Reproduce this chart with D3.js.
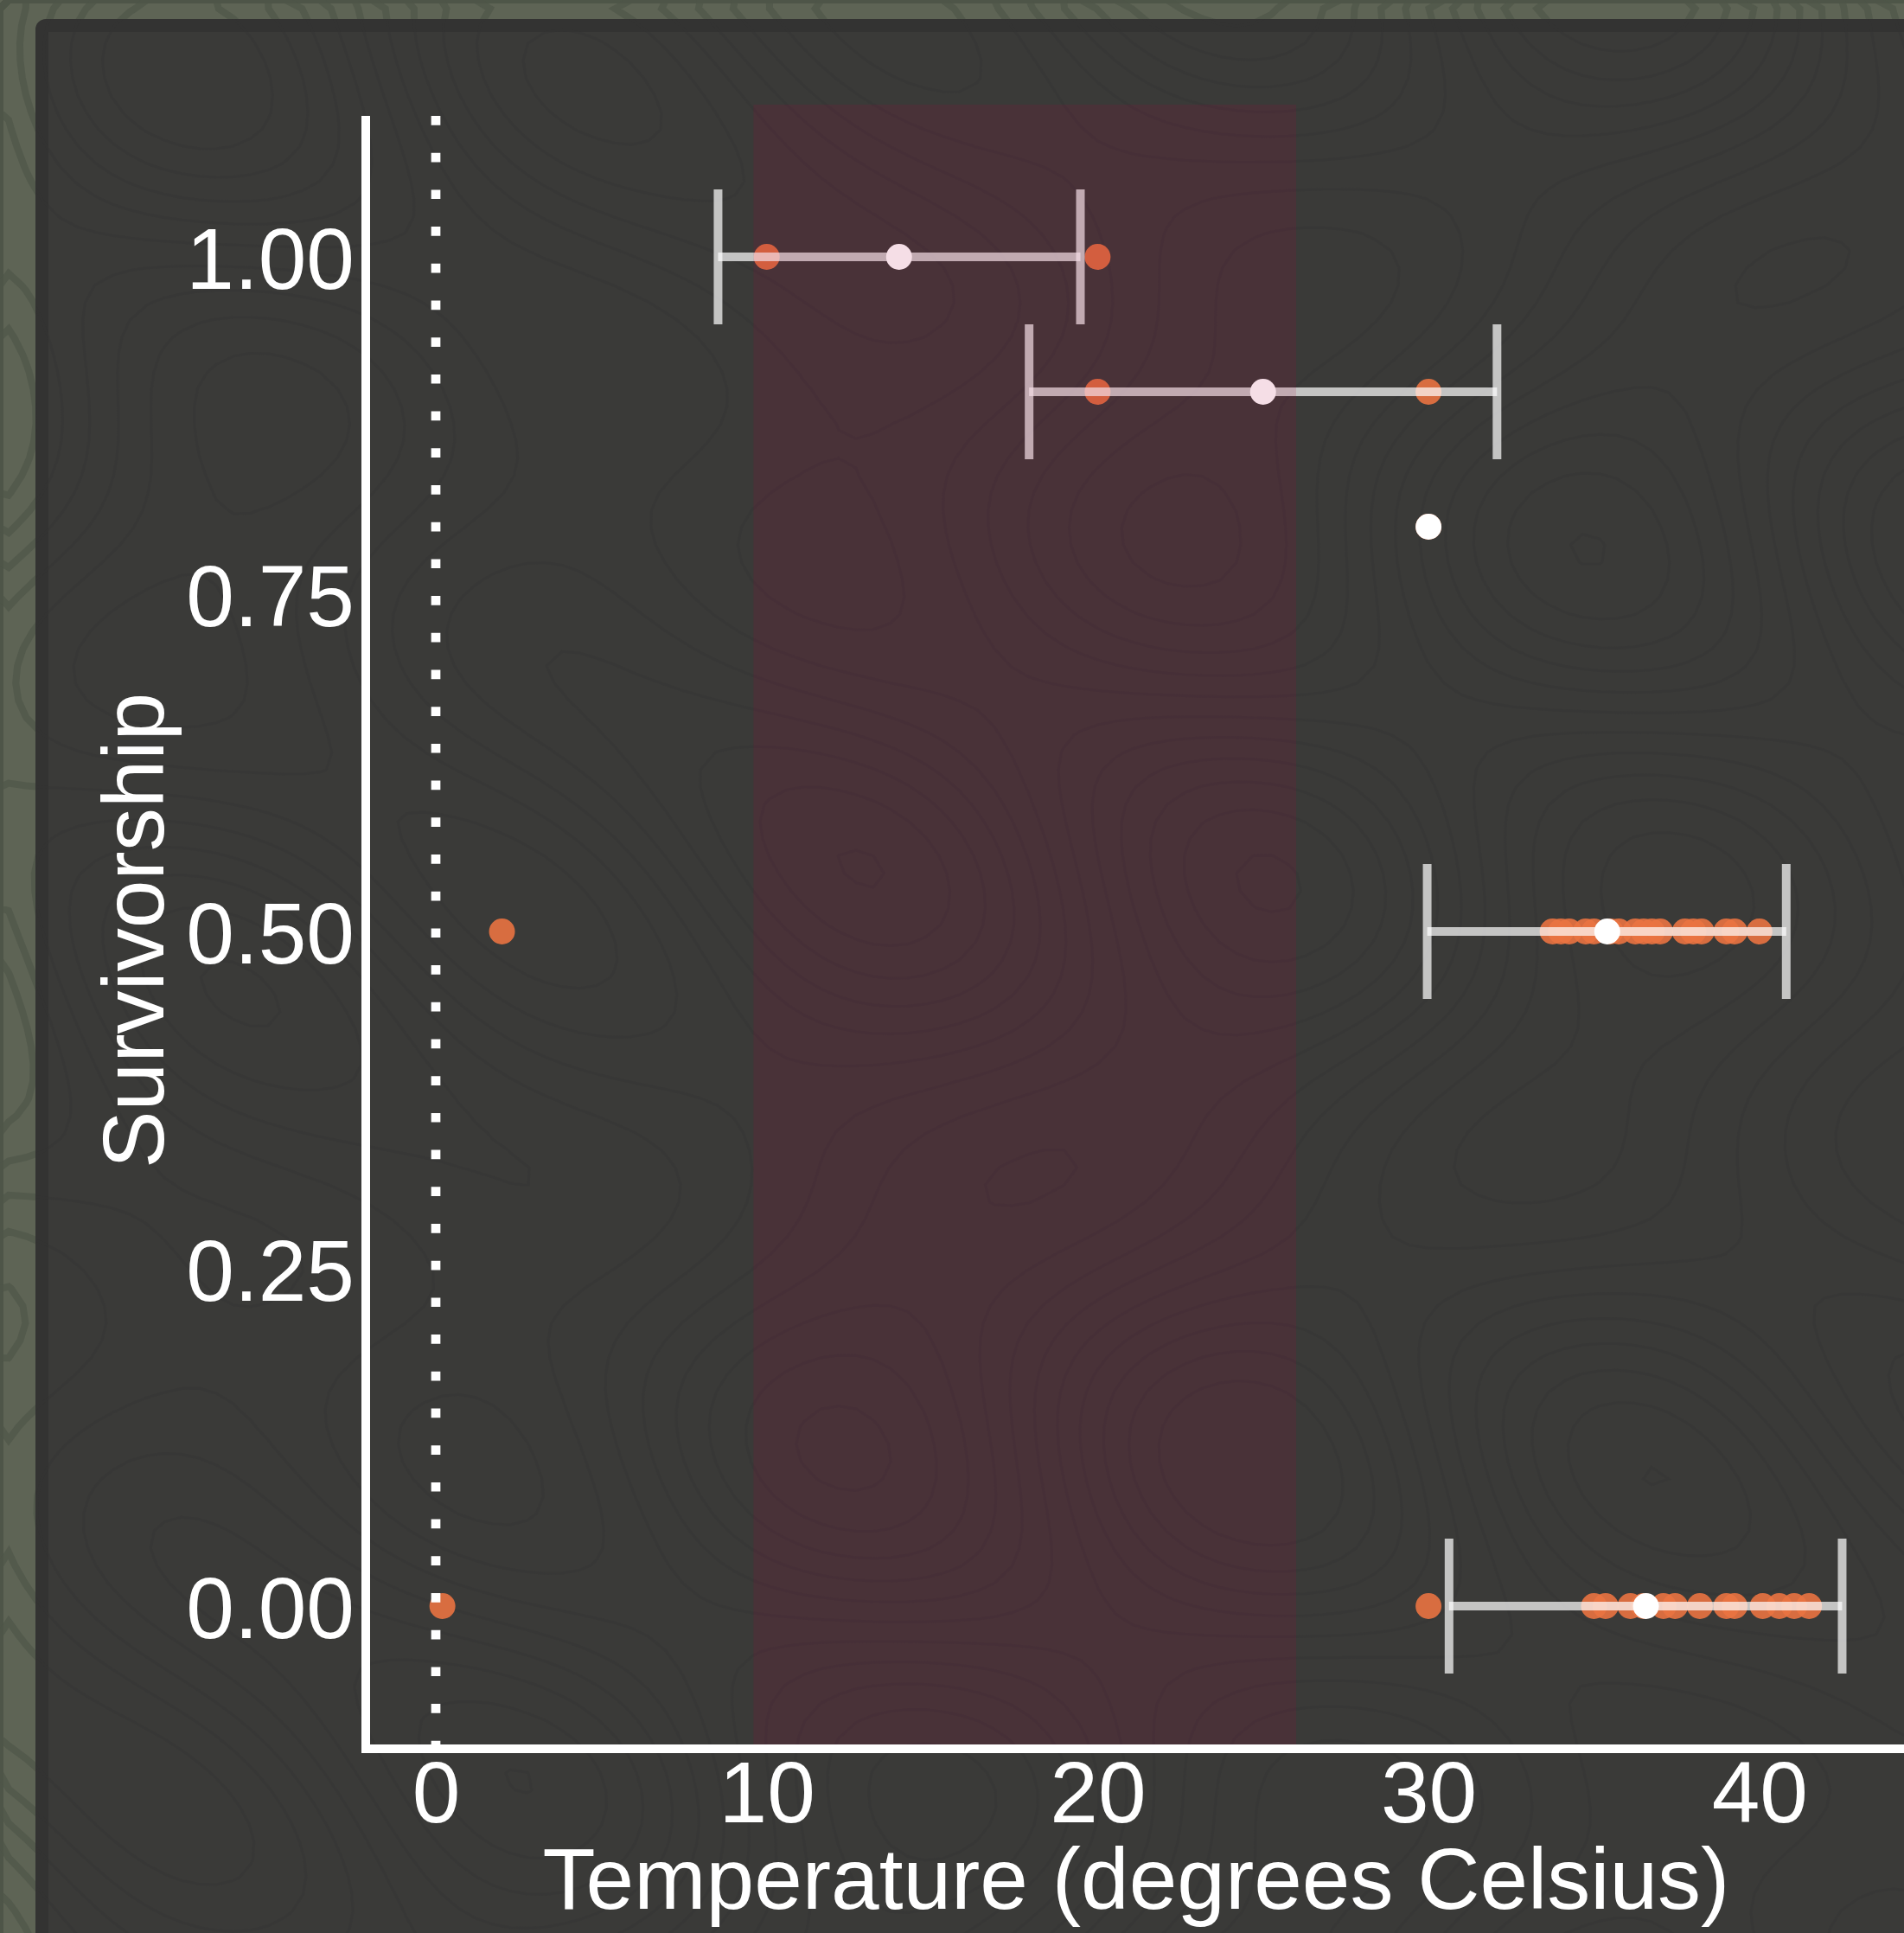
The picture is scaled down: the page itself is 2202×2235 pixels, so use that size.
<!DOCTYPE html>
<html>
<head>
<meta charset="utf-8">
<script src="https://cdn.jsdelivr.net/npm/d3@7"></script>
<style>
  body { margin: 0; background: #5c6253; }
  svg { display: block; }
  text { font-family: "Liberation Sans", Arial, Helvetica, sans-serif; fill: #ffffff; }
</style>
</head>
<body>
<div id="chart"></div>
<script>
// survivorship groups (y) and the temperatures observed in each (x)
var survLevels = [1.0, 0.9, 0.8, 0.5, 0.0];
var temps100 = [10, 20];
var temps090 = [20, 30];
var temps080 = [30];
var temps050 = [2, 33.75, 34, 34.25, 34.75, 35, 35.5, 35.75, 36.25, 36.5, 36.75, 37, 37.75, 38, 38.25, 39, 39.25, 40];
var temps000 = [0.2, 30, 35, 35.35, 36.1, 36.5, 37.1, 37.45, 38.2, 39, 39.25, 40.1, 40.6, 41.05, 41.5];

// group mean and error bar ends
var meanTemp = [14, 25, 30, 35.4, 36.57];
var errLow  = [8.53, 17.93, null, 29.96, 30.62];
var errHigh = [19.48, 32.07, null, 40.81, 42.5];

// shaded temperature window
var bandStart = 9.6, bandEnd = 26;

var xTicks = [0, 10, 20, 30, 40];
var yTicks = [0, 0.25, 0.5, 0.75, 1];

var W = 2202, H = 2235;
var svg = d3.select("#chart").append("svg").attr("width", W).attr("height", H);

// ---- background: olive paper with topo-like texture, dark card on top
var defs = svg.append("defs");
defs.append("clipPath").attr("id", "card").append("rect")
  .attr("x", 41).attr("y", 22).attr("width", 2400).attr("height", 2400).attr("rx", 12);

svg.append("rect").attr("width", W).attr("height", H).attr("fill", "#5e6455");

var gw = 120, gh = 122, cell = 20, field = new Array(gw * gh);
for (var j = 0; j < gh; j++) for (var i = 0; i < gw; i++) {
  var px = i * cell, py = j * cell;
  field[j * gw + i] = Math.sin(px / 131) * Math.cos(py / 173) + 0.6 * Math.sin((px + py) / 223)
    + 0.4 * Math.cos((px - 2 * py) / 157);
}
var contours = d3.contours().size([gw, gh]).thresholds(d3.range(-1.8, 1.8, 0.3))(field);
var topo = d3.geoPath(d3.geoIdentity().scale(cell));
svg.append("g").selectAll("path").data(contours).join("path")
  .attr("d", topo).attr("fill", "none").attr("stroke", "#4f5548").attr("stroke-width", 8).attr("opacity", 0.7);

svg.append("rect").attr("x", 41).attr("y", 22).attr("width", 2400).attr("height", 2400)
  .attr("rx", 12).attr("fill", "#333332");
svg.append("rect").attr("x", 56).attr("y", 37).attr("width", 2400).attr("height", 2400)
  .attr("fill", "#3a3a38");
svg.append("g").attr("clip-path", "url(#card)").selectAll("path").data(contours).join("path")
  .attr("d", topo).attr("fill", "none").attr("stroke", "#353533").attr("stroke-width", 3).attr("opacity", 0.35);

// ---- scales
var x = d3.scaleLinear().domain([0, 40]).range([504, 2034.8]);
var y = d3.scaleLinear().domain([0, 1]).range([1857, 297]);
var panelTop = 121, panelBottom = 2017;

var g = svg.append("g");

var groups = [temps100, temps090, temps080, temps050, temps000];
var pts = [];
groups.forEach(function(arr, k) { arr.forEach(function(t) { pts.push({t: t, s: survLevels[k]}); }); });

// raw observations
g.selectAll("circle.obs").data(pts).join("circle").attr("class", "obs")
  .attr("cx", function(d) { return x(d.t); }).attr("cy", function(d) { return y(d.s); })
  .attr("r", 15).attr("fill", "#ea7341").attr("fill-opacity", 0.9);

// error bars
var summ = survLevels.map(function(s, k) {
  return {s: s, m: meanTemp[k], lo: errLow[k], hi: errHigh[k]};
});
var bars = summ.filter(function(d) { return d.lo != null; });
var capH = y(0) - y(0.05);
var eb = g.append("g").attr("stroke", "#ffffff").attr("stroke-opacity", 0.7).attr("stroke-width", 10);
eb.selectAll("line.h").data(bars).join("line").attr("class", "h")
  .attr("x1", function(d) { return x(d.lo); }).attr("x2", function(d) { return x(d.hi); })
  .attr("y1", function(d) { return y(d.s); }).attr("y2", function(d) { return y(d.s); });
eb.selectAll("line.lc").data(bars).join("line").attr("class", "lc")
  .attr("x1", function(d) { return x(d.lo); }).attr("x2", function(d) { return x(d.lo); })
  .attr("y1", function(d) { return y(d.s) - capH; }).attr("y2", function(d) { return y(d.s) + capH; });
eb.selectAll("line.rc").data(bars).join("line").attr("class", "rc")
  .attr("x1", function(d) { return x(d.hi); }).attr("x2", function(d) { return x(d.hi); })
  .attr("y1", function(d) { return y(d.s) - capH; }).attr("y2", function(d) { return y(d.s) + capH; });

// means
g.selectAll("circle.mean").data(summ).join("circle").attr("class", "mean")
  .attr("cx", function(d) { return x(d.m); }).attr("cy", function(d) { return y(d.s); })
  .attr("r", 15).attr("fill", "#ffffff");

// shaded band (drawn over, translucent)
g.append("rect").attr("x", x(bandStart)).attr("width", x(bandEnd) - x(bandStart))
  .attr("y", panelTop).attr("height", panelBottom - panelTop)
  .attr("fill", "#b4003a").attr("fill-opacity", 0.13);

// dotted zero line
g.append("line").attr("x1", x(0)).attr("x2", x(0)).attr("y1", 134).attr("y2", panelBottom)
  .attr("stroke", "#ffffff").attr("stroke-width", 10.7).attr("stroke-dasharray", "10.7,32");

// ---- axes
var xAxis = svg.append("g").attr("transform", "translate(0,2022)")
  .call(d3.axisBottom(x).tickValues(xTicks).tickSize(0).tickPadding(14).tickFormat(d3.format("d")));
xAxis.select(".domain").remove();
xAxis.selectAll("text").attr("font-size", 100).attr("fill", "#ffffff")
  .style("font-family", "'Liberation Sans', Arial, sans-serif");

var yAxis = svg.append("g").attr("transform", "translate(423,0)")
  .call(d3.axisLeft(y).tickValues(yTicks).tickSize(0).tickPadding(13).tickFormat(d3.format(".2f")));
yAxis.select(".domain").remove();
yAxis.selectAll("text").attr("font-size", 100).attr("fill", "#ffffff").attr("dy", "0.36em")
  .style("font-family", "'Liberation Sans', Arial, sans-serif");

svg.append("line").attr("x1", 423).attr("x2", 423).attr("y1", 134).attr("y2", 2027)
  .attr("stroke", "#ffffff").attr("stroke-width", 10);
svg.append("line").attr("x1", 418).attr("x2", W + 10).attr("y1", 2022).attr("y2", 2022)
  .attr("stroke", "#ffffff").attr("stroke-width", 10);

svg.append("text").attr("x", 1314).attr("y", 2207).attr("text-anchor", "middle")
  .attr("font-size", 100).text("Temperature (degrees Celsius)");
svg.append("text").attr("transform", "translate(189,1076) rotate(-90)").attr("text-anchor", "middle")
  .attr("font-size", 100).text("Survivorship");
</script>
</body>
</html>
